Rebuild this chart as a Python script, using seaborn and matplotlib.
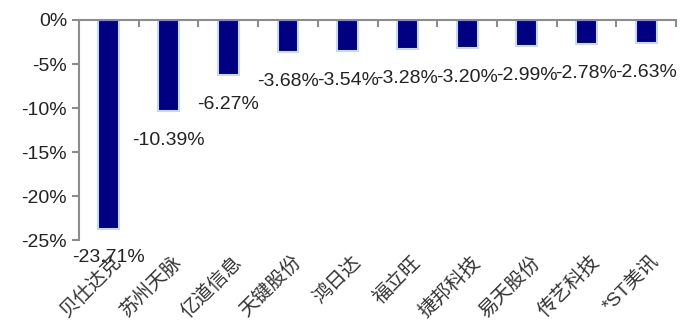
import seaborn as sns
import matplotlib.pyplot as plt
import matplotlib.transforms as mtransforms
import pandas as pd
from matplotlib.ticker import FixedLocator

# 数据
names = ['贝仕达克', '苏州天脉', '亿道信息', '天键股份', '鸿日达',
         '福立旺', '捷邦科技', '易天股份', '传艺科技', '*ST美讯']
values = [-23.71, -10.39, -6.27, -3.68, -3.54, -3.28, -3.20, -2.99, -2.78, -2.63]
yticks = [0, -5, -10, -15, -20, -25]

df = pd.DataFrame({'name': names, 'chg': values})

sns.set_style('white')
plt.rcParams['font.family'] = ['Liberation Sans', 'Noto Sans CJK SC']
plt.rcParams['axes.unicode_minus'] = False

fig = plt.figure(figsize=(6.95, 3.33), dpi=100)
ax = fig.add_axes([0.1137, 0.279, 0.859, 0.661])

sns.barplot(data=df, x='name', y='chg', color='#000080', saturation=1,
            width=0.35, edgecolor='#c6d9f1', linewidth=1.5, ax=ax)

ax.set_ylim(-25, 0)
ax.set_xlim(-0.5, len(names) - 0.5)
ax.set_yticks(yticks)
ax.set_yticklabels([f'{t}%' for t in yticks], fontsize=14, color='#222222')
ax.set_xlabel('')
ax.set_ylabel('')

# 数值标签
for i, v in enumerate(values):
    ax.annotate(f'{v:.2f}%', xy=(i, v), xytext=(0, -21), textcoords='offset points',
                ha='center', va='center', fontsize=14, color='#222222')

# 坐标轴样式
for s in ['right', 'bottom']:
    ax.spines[s].set_visible(False)
for s in ['left', 'top']:
    ax.spines[s].set_color('#8c8c8c')
    ax.spines[s].set_linewidth(1.5)

ax.tick_params(axis='y', direction='out', length=5, width=1.5, color='#8c8c8c', left=True)
ax.tick_params(axis='x', which='major', length=0, pad=9)
ax.xaxis.set_minor_locator(FixedLocator([i + 0.5 for i in range(len(names))]))
ax.tick_params(axis='x', which='minor', top=True, bottom=False, direction='in',
               length=5, width=1.5, color='#8c8c8c')
shift = mtransforms.ScaledTranslation(4 / 100, 0, fig.dpi_scale_trans)
for lab in ax.get_xticklabels():
    lab.set_rotation(45)
    lab.set_ha('right')
    lab.set_rotation_mode('anchor')
    lab.set_fontsize(14)
    lab.set_fontweight('light')
    lab.set_color('#333333')
    lab.set_transform(lab.get_transform() + shift)

fig.savefig('out.png', dpi=100)
